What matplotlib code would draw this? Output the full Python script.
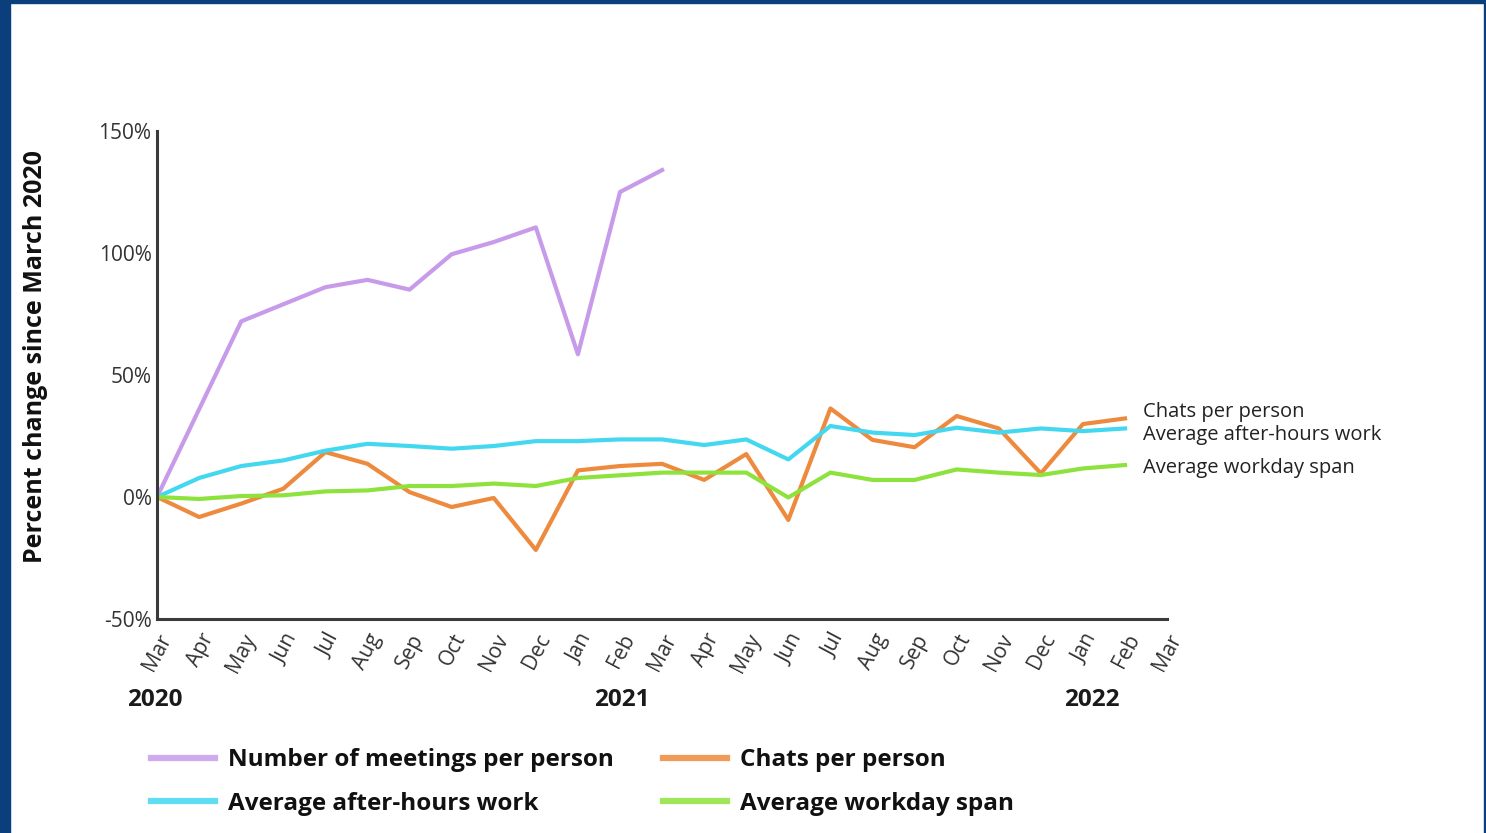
import matplotlib
matplotlib.use("Agg")
import matplotlib.pyplot as plt
from matplotlib.patches import Rectangle

plt.rcParams['font.family'] = ['Open Sans', 'DejaVu Sans']

# months Mar 2020 .. Mar 2022
month_labels = ["Mar", "Apr", "May", "Jun", "Jul", "Aug", "Sep", "Oct", "Nov", "Dec", "Jan", "Feb",
                "Mar", "Apr", "May", "Jun", "Jul", "Aug", "Sep", "Oct", "Nov", "Dec", "Jan", "Feb", "Mar"]
year_labels = ["2020", "2021", "2022"]
year_pos = [-0.05, 11.05, 22.2]

meetings = [0, 36, 72, 79, 86, 89, 85, 99.5, 104.5, 110.5, 58.5, 125, 134]
chats = [0, -8.2, -2.7, 3.4, 18.4, 13.6, 2, -4.1, -0.4, -21.7, 10.9, 12.7, 13.6,
         7, 17.6, -9.4, 36.3, 23.4, 20.4, 33.2, 28.1, 9.7, 29.9, 32.2]
after_hours = [0, 7.8, 12.7, 15, 19, 21.8, 20.9, 19.8, 20.9, 22.9, 22.9, 23.6, 23.6,
               21.3, 23.6, 15.4, 29.1, 26.4, 25.4, 28.4, 26.4, 28.1, 27, 28.1]
workday = [0, -0.8, 0.4, 0.7, 2.3, 2.7, 4.5, 4.5, 5.5, 4.5, 7.8, 8.9, 10,
           10, 10, -0.2, 10, 7, 7, 11.3, 10, 9, 11.7, 13.1]

c_meet = "#c79be9"
c_chat = "#ee8a3d"
c_after = "#44d8f0"
c_work = "#8ee23e"

fig = plt.figure(figsize=(14.86, 8.33), dpi=100)
ax = fig.add_axes([0.1057, 0.2569, 0.6797, 0.5858])

l_meet, = ax.plot(range(len(meetings)), meetings, color=c_meet, lw=3, label="Number of meetings per person")
l_chat, = ax.plot(range(len(chats)), chats, color=c_chat, lw=3, label="Chats per person")
l_after, = ax.plot(range(len(after_hours)), after_hours, color=c_after, lw=3, label="Average after-hours work")
l_work, = ax.plot(range(len(workday)), workday, color=c_work, lw=3, label="Average workday span")

ax.set_xlim(0, 24)
ax.set_ylim(-50, 150)
ax.set_yticks([-50, 0, 50, 100, 150])
ax.set_yticklabels(["-50%", "0%", "50%", "100%", "150%"])
ax.set_xticks(range(len(month_labels)))
ax.set_xticklabels(month_labels, rotation=62, ha="right", rotation_mode="anchor")
ax.tick_params(axis="both", length=0, labelsize=15, colors="#333333", pad=4)
ax.tick_params(axis="x", pad=8)
for s in ["top", "right"]:
    ax.spines[s].set_visible(False)
for s in ["left", "bottom"]:
    ax.spines[s].set_color("#3a3a3a")
    ax.spines[s].set_linewidth(2.2)

ax.set_ylabel("Percent change since March 2020", fontsize=18, fontweight="bold", color="#111111")
ax.yaxis.set_label_coords(-0.108, 0.537)

for lab, xp in zip(year_labels, year_pos):
    ax.text(xp, -0.165, lab, transform=ax.get_xaxis_transform(), ha="center", va="center",
            fontsize=17.5, fontweight="bold", color="#1a1a1a")

# end labels
end_texts = ["Chats per person", "Average after-hours work", "Average workday span"]
end_y = [35, 25.3, 12]
for t, yv in zip(end_texts, end_y):
    ax.text(23.43, yv, t, fontsize=14.5, color="#222222", va="center", ha="left", clip_on=False)

handles = [l_meet, l_after, l_chat, l_work]
leg = fig.legend(handles, [h.get_label() for h in handles], loc="upper left",
                 bbox_to_anchor=(0.0868, 0.128), ncol=2, frameon=False,
                 prop={"size": 17.5, "weight": "bold"}, handlelength=2.63, handletextpad=0.53,
                 columnspacing=2.05, labelspacing=0.8)
for h in leg.legend_handles:
    h.set_linewidth(4.5)
    h.set_alpha(0.85)
for t in leg.get_texts():
    t.set_color("#111111")

# blue frame
bc = "#0a3f7b"
fig.patches.append(Rectangle((0, 0), 10 / 1486, 1, transform=fig.transFigure, color=bc, zorder=10))
fig.patches.append(Rectangle((0, 1 - 3 / 833), 1, 3 / 833, transform=fig.transFigure, color=bc, zorder=10))
fig.patches.append(Rectangle((1 - 2.5 / 1486, 0), 2.5 / 1486, 1, transform=fig.transFigure, color=bc, zorder=10))

fig.savefig("out.png", dpi=100)
